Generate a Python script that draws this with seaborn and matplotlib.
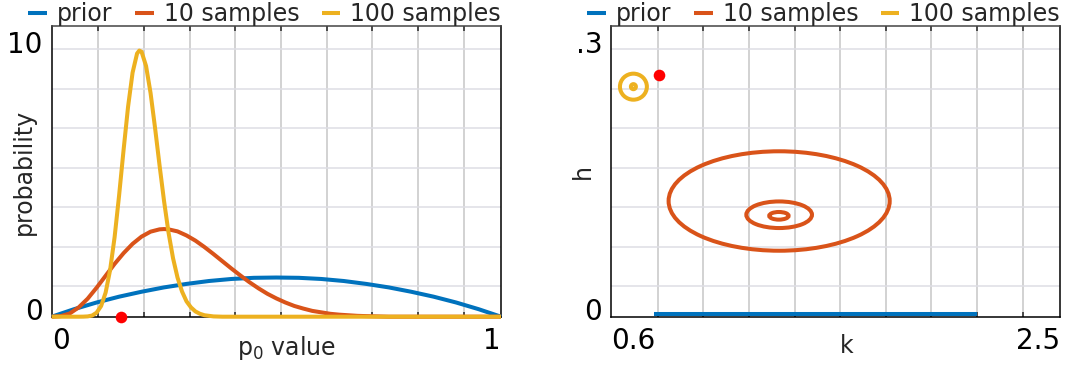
import matplotlib
matplotlib.use("Agg")
import matplotlib.pyplot as plt
import seaborn as sns
import pandas as pd
from matplotlib.patches import Ellipse
from matplotlib.lines import Line2D
from matplotlib.transforms import ScaledTranslation

# ---------------- data ----------------
SERIES = ["prior", "10 samples", "100 samples"]

# left panel: probability density of p0
p0_prior = [0, .05, .10, .15, .20, .25, .30, .35, .40, .45, .50,
            .55, .60, .65, .70, .75, .80, .85, .90, .95, 1.0]
dens_prior = [0, .26, .49, .69, .86, 1.01, 1.13, 1.23, 1.30, 1.34, 1.35,
              1.34, 1.30, 1.23, 1.13, 1.01, .86, .69, .49, .26, 0]

p0_10 = [0, .02, .04, .06, .08, .10, .12, .14, .16, .18, .20, .22, .24, .25,
         .26, .28, .30, .32, .34, .36, .38, .40, .42, .44, .46, .48, .50, .52,
         .54, .56, .58, .60, .62, .64, .66, .68, .70, .75, .80, 1.0]
dens_10 = [0, .02, .11, .32, .62, 1.00, 1.41, 1.82, 2.19, 2.51, 2.76, 2.93, 3.01, 3.02,
           3.01, 2.94, 2.80, 2.62, 2.40, 2.16, 1.91, 1.66, 1.42, 1.19, .98, .79, .63, .49,
           .37, .28, .20, .15, .10, .07, .05, .03, .02, 0, 0, 0]

p0_100 = [0, .05, .06, .07, .08, .09, .10, .11, .12, .13, .14, .15, .16, .17, .18, .19,
          .195, .20, .21, .22, .23, .24, .25, .26, .27, .28, .29, .30, .31, .32, .33,
          .34, .35, .36, .38, .40, 1.0]
dens_100 = [0, 0, 0, .002, .01, .04, .14, .37, .83, 1.61, 2.74, 4.18, 5.75, 7.24, 8.41, 9.07,
            9.17, 9.13, 8.64, 7.71, 6.51, 5.22, 3.99, 2.90, 2.02, 1.35, .87, .53, .32, .18, .10,
            .05, .03, .01, 0, 0, 0]

true_p0 = [0.154]
true_p0_level = [0.0]

# right panel: (k, h) plane
prior_k = [0.78, 2.15]
prior_h = [0.0023, 0.0023]

c10_k = [1.311, 1.311, 1.310]
c10_h = [0.1196, 0.1054, 0.1043]
c10_w = [0.936, 0.278, 0.082]
c10_hh = [0.1028, 0.0275, 0.0079]

c100_k = [0.694, 0.694]
c100_h = [0.2378, 0.2378]
c100_w = [0.114, 0.021]
c100_hh = [0.0269, 0.0052]

true_k = [0.802]
true_h = [0.250]

# ---------------- styling ----------------
COLORS = {"prior": "#0072BD", "10 samples": "#D95319", "100 samples": "#EDB120"}
RED = "#FF0000"
LW = 2.9
TEXT = "#262626"
GRID_X = [0.104 + 0.1016 * i for i in range(9)]
GRID_Y = [0.1058 + 0.1359 * i for i in range(7)]

plt.rcParams["font.family"] = ["DejaVu Sans"]

fig = plt.figure(figsize=(10.72, 3.68), dpi=100)
ax1 = fig.add_axes([0.04823, 0.13940, 0.41912, 0.78859])
ax2 = fig.add_axes([0.57015, 0.13940, 0.41866, 0.78859])

df = pd.concat([
    pd.DataFrame({"p0": p0_prior, "density": dens_prior, "series": "prior"}),
    pd.DataFrame({"p0": p0_10, "density": dens_10, "series": "10 samples"}),
    pd.DataFrame({"p0": p0_100, "density": dens_100, "series": "100 samples"}),
], ignore_index=True)

sns.lineplot(data=df, x="p0", y="density", hue="series", hue_order=SERIES,
             palette=COLORS, estimator=None, sort=False, linewidth=LW, ax=ax1,
             legend=False, clip_on=False, solid_joinstyle="round",
             solid_capstyle="butt", zorder=3)
sns.scatterplot(x=true_p0, y=true_p0_level, color=RED, s=70, linewidth=0,
                ax=ax1, clip_on=False, zorder=5, legend=False)

sns.lineplot(x=prior_k, y=prior_h, color=COLORS["prior"], linewidth=LW, ax=ax2,
             estimator=None, sort=False, solid_capstyle="butt", zorder=3)
for k, h, w, hh in zip(c10_k, c10_h, c10_w, c10_hh):
    ax2.add_patch(Ellipse((k, h), w, hh, fill=False, edgecolor=COLORS["10 samples"],
                          lw=LW, zorder=3))
for k, h, w, hh in zip(c100_k, c100_h, c100_w, c100_hh):
    ax2.add_patch(Ellipse((k, h), w, hh, fill=False, edgecolor=COLORS["100 samples"],
                          lw=LW, zorder=3))
sns.scatterplot(x=true_k, y=true_h, color=RED, s=70, linewidth=0, ax=ax2,
                zorder=5, legend=False)


def style(ax, xlim, ylim, xt, yt, xlabel, ylabel, xlab_x):
    ax.set_xlim(xlim)
    ax.set_ylim(ylim)
    ax.set_xticks(list(xlim))
    ax.set_xticklabels(xt)
    ax.set_yticks(list(ylim))
    ax.set_yticklabels(yt)
    gx = [xlim[0] + f * (xlim[1] - xlim[0]) for f in GRID_X]
    gy = [ylim[0] + f * (ylim[1] - ylim[0]) for f in GRID_Y]
    ax.set_xticks(gx, minor=True)
    ax.set_yticks(gy, minor=True)
    ax.tick_params(which="major", length=0, labelsize=20, labelcolor="black")
    ax.tick_params(axis="x", which="major", pad=7.5)
    ax.tick_params(axis="y", which="major", pad=6.5)
    ax.tick_params(axis="x", which="minor", direction="in", length=3.5, width=1.2,
                   color="#333333", top=True, bottom=True)
    ax.tick_params(axis="y", which="minor", length=0)
    ax.grid(False)
    ax.grid(True, which="minor", axis="x", color="#c6c6c6", lw=1.1)
    ax.grid(True, which="minor", axis="y", color="#dedee4", lw=1.1)
    ax.set_axisbelow(True)
    for side, sp in ax.spines.items():
        sp.set_linewidth(1.1)
        sp.set_color("#444444" if side == "top" else "black")
        sp.set_zorder(2.5)
    ax.set_xlabel(xlabel, fontsize=17, color=TEXT)
    ax.set_ylabel(ylabel, fontsize=17, color=TEXT)
    ax.xaxis.set_label_coords(xlab_x, -0.06)
    ax.yaxis.set_label_coords(-0.036, 0.5)
    handles = [Line2D([], [], color=COLORS[s], lw=LW, solid_capstyle="butt") for s in SERIES]
    ax.legend(handles, SERIES, loc="lower right", bbox_to_anchor=(1.0, 1.0), ncol=3,
              frameon=False, fontsize=17, handlelength=0.8, handletextpad=0.42,
              columnspacing=0.95, borderaxespad=0, borderpad=0, labelcolor=TEXT)


style(ax1, (0, 1), (0, 10), ["0", "1"], ["0", "10"], "p$_0$ value", "probability", 0.523)
style(ax2, (0.6, 2.5), (0, 0.3), ["0.6", "2.5"], ["0", ".3"], "k", "h", 0.525)

for ax in (ax1, ax2):
    xl = ax.get_xticklabels()
    xl[0].set_horizontalalignment("left")
    xl[-1].set_horizontalalignment("right")
    yl = ax.get_yticklabels()
    yl[0].set_verticalalignment("baseline")
    yl[0].set_transform(yl[0].get_transform() + ScaledTranslation(0, -3 / 100, fig.dpi_scale_trans))
    yl[-1].set_verticalalignment("top")
    yl[-1].set_transform(yl[-1].get_transform() + ScaledTranslation(0, -5 / 100, fig.dpi_scale_trans))

fig.savefig("out.png", dpi=100)
